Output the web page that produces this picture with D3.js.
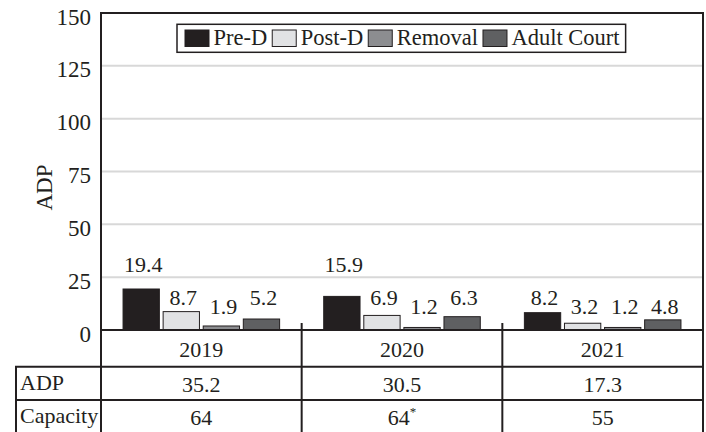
<!DOCTYPE html>
<html>
<head>
<meta charset="utf-8">
<script src="https://cdn.jsdelivr.net/npm/d3@7"></script>
<style>
  html, body { margin: 0; padding: 0; background: #fff; }
</style>
</head>
<body>
<svg id="chart" width="706" height="432"></svg>
<script>
// ---- data ----
const years = ["2019", "2020", "2021"];
const seriesNames = ["Pre-D", "Post-D", "Removal", "Adult Court"];
const preD = [19.4, 15.9, 8.2];
const postD = [8.7, 6.9, 3.2];
const removal = [1.9, 1.2, 1.2];
const adultCourt = [5.2, 6.3, 4.8];
const adpTotals = ["35.2", "30.5", "17.3"];
const capacity = ["64", "64", "55"];
const capacityNotes = ["", "*", ""];
const yTicks = [0, 25, 50, 75, 100, 125, 150];
const rowLabels = ["ADP", "Capacity"];

(function () {
const colors = ["#231f20", "#e1e2e4", "#8c8d90", "#5f6062"];
const ink = "#231f20";
const fs = 22;
const FONT = "'Liberation Serif', 'Times New Roman', Times, 'DejaVu Serif', serif";

const seriesValues = [preD, postD, removal, adultCourt];
const data = years.map((yr, i) => ({
  year: yr,
  values: seriesNames.map((s, j) => ({ key: s, value: seriesValues[j][i], color: colors[j] }))
}));

const svg = d3.select("#chart");
const pLeft = 101, pRight = 703, pTop = 13, tableLeft = 16;

const y = d3.scaleLinear().domain([0, 150]).range([330, pTop]);
const zeroY = y(0);
const x0 = d3.scaleBand().domain(years).range([pLeft, pRight]).padding(0);
const x1 = d3.scaleBand().domain(seriesNames).range([0, x0.bandwidth()])
  .paddingInner(0.094).paddingOuter(0.55);

svg.append("g").selectAll("line").data(yTicks.filter(t => t > 0 && t < 150)).join("line")
  .attr("x1", pLeft).attr("x2", pRight)
  .attr("y1", d => y(d)).attr("y2", d => y(d))
  .attr("stroke", "#d8d8d8").attr("stroke-width", 2);

const yAxis = d3.axisLeft(y).tickValues(yTicks).tickSize(0).tickPadding(10).tickFormat(d3.format("d"));
const yg = svg.append("g").attr("transform", `translate(${pLeft},0)`).call(yAxis);
yg.select(".domain").remove();
yg.attr("font-family", null).attr("font-size", null);
yg.selectAll("text").attr("font-size", 23).style("font-family", FONT)
  .attr("fill", ink).attr("dy", "0.48em");

svg.append("text")
  .attr("transform", `translate(51.5,187.5) rotate(-90)`)
  .attr("text-anchor", "middle").attr("font-size", 23).style("font-family", FONT)
  .attr("fill", ink).text("ADP");

const groups = svg.append("g").selectAll("g").data(data).join("g")
  .attr("transform", d => `translate(${x0(d.year)},0)`);
groups.selectAll("rect").data(d => d.values).join("rect")
  .attr("x", d => x1(d.key)).attr("width", x1.bandwidth())
  .attr("y", d => y(d.value)).attr("height", d => zeroY - y(d.value))
  .attr("fill", d => d.color).attr("stroke", ink).attr("stroke-width", 1);

const labelLevel = d3.scaleThreshold().domain([5, 10]).range([7.4, 11.9, 27.6]);
groups.selectAll("text.val").data(d => d.values).join("text")
  .attr("class", "val")
  .attr("x", d => x1(d.key) + x1.bandwidth() / 2 + 2)
  .attr("y", d => y(labelLevel(d.value)))
  .attr("text-anchor", "middle").attr("font-size", fs).style("font-family", FONT).attr("fill", ink)
  .text(d => d3.format(".1f")(d.value));

const rowTops = [zeroY, 366.7, 400, 433.5];
const lines = svg.append("g").attr("stroke", ink).attr("stroke-width", 2).attr("fill", "none");
lines.append("line").attr("x1", pLeft - 1).attr("x2", pRight + 1).attr("y1", pTop).attr("y2", pTop);
lines.append("line").attr("x1", pLeft).attr("x2", pLeft).attr("y1", pTop).attr("y2", rowTops[3]);
lines.append("line").attr("x1", pRight).attr("x2", pRight).attr("y1", pTop).attr("y2", rowTops[3]);
lines.append("line").attr("x1", pLeft).attr("x2", pRight).attr("y1", zeroY).attr("y2", zeroY);
lines.selectAll("line.row").data(rowTops.slice(1, 3)).join("line").attr("class", "row")
  .attr("x1", tableLeft - 1).attr("x2", pRight).attr("y1", d => d).attr("y2", d => d);
lines.append("line").attr("x1", tableLeft).attr("x2", tableLeft).attr("y1", rowTops[1]).attr("y2", rowTops[3]);
lines.selectAll("line.col").data(years.slice(1)).join("line").attr("class", "col")
  .attr("x1", d => x0(d)).attr("x2", d => x0(d)).attr("y1", zeroY - 7).attr("y2", rowTops[3]);

const cx = d => x0(d) + x0.bandwidth() / 2;
const rowMid = i => (rowTops[i] + rowTops[i + 1]) / 2 + 8.2;
const txt = sel => sel.attr("font-size", fs).style("font-family", FONT).attr("fill", ink);
svg.append("g").selectAll("text").data(years).join("text")
  .attr("x", cx).attr("y", rowMid(0)).attr("text-anchor", "middle").call(txt).text(d => d);
svg.append("g").selectAll("text").data(years).join("text")
  .attr("x", cx).attr("y", rowMid(1)).attr("text-anchor", "middle").call(txt)
  .text((d, i) => adpTotals[i]);
const capT = svg.append("g").selectAll("text").data(years).join("text")
  .attr("x", cx).attr("y", rowMid(2)).attr("text-anchor", "middle").call(txt);
capT.append("tspan").text((d, i) => capacity[i]);
capT.append("tspan").attr("dy", -9).attr("font-size", 13).text((d, i) => capacityNotes[i]);
svg.append("g").selectAll("text").data(rowLabels).join("text")
  .attr("x", tableLeft + 4).attr("y", (d, i) => rowMid(i + 1) - 1.5)
  .call(txt).text(d => d);

const leg = svg.append("g");
const legBox = leg.append("rect").attr("fill", "#fff").attr("stroke", ink).attr("stroke-width", 1.5);
let lx = 185;
const items = leg.selectAll("g").data(seriesNames).join("g");
items.each(function (d, i) {
  const g = d3.select(this);
  g.append("rect").attr("x", lx).attr("y", 30).attr("width", 24).attr("height", 16.5)
    .attr("fill", colors[i]).attr("stroke", ink).attr("stroke-width", 1);
  const t = g.append("text").attr("x", lx + 28.5).attr("y", 45).attr("font-size", 22.5)
    .style("font-family", FONT).attr("fill", ink).text(d);
  lx += 28.5 + t.node().getComputedTextLength() + 5;
});
legBox.attr("x", 177).attr("y", 24.3).attr("width", lx - 177 + 1).attr("height", 28);
})();
</script>
</body>
</html>
